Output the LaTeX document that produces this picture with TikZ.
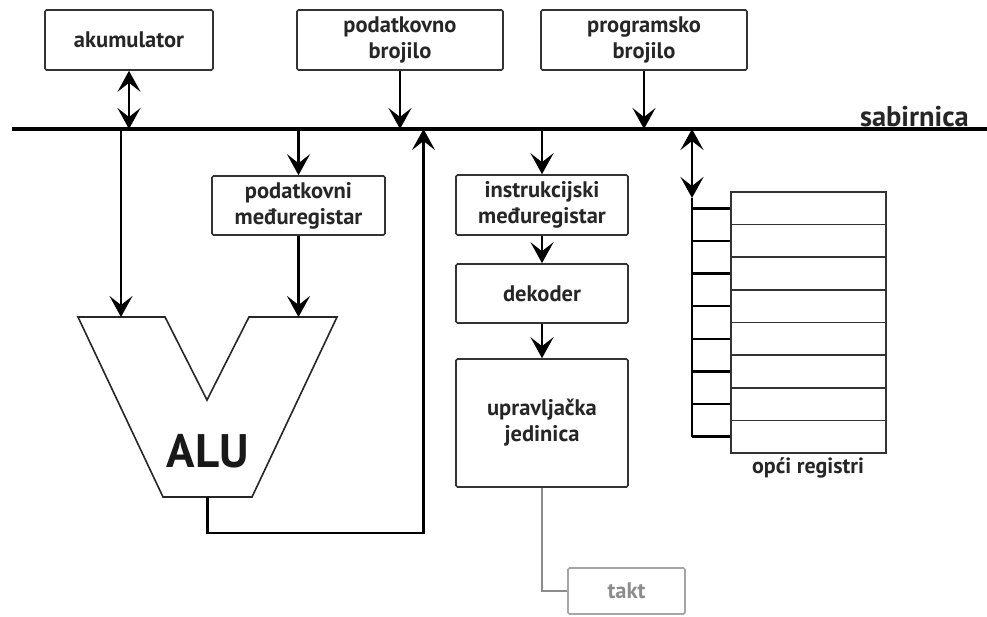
\documentclass[tikz,border=0pt]{standalone}
\usepackage{fontspec}
\setmainfont{PT Sans}
\usetikzlibrary{arrows.meta}
\begin{document}
\begin{tikzpicture}[x=1pt,y=-1pt,
  box/.style={draw=black!80, line width=1.6pt, rounded corners=1.5pt, inner sep=0pt,
    font=\bfseries\fontsize{22.5}{26}\selectfont, text=black!85, align=center},
  lbl/.style={font=\bfseries\fontsize{22}{26}\selectfont, text=black!85, inner sep=0pt},
  con/.style={line width=2.6pt, -{Stealth[length=21pt,width=23pt,inset=9pt]}},
  dbl/.style={line width=2.6pt, {Stealth[length=21pt,width=23pt,inset=9pt]}-{Stealth[length=21pt,width=23pt,inset=9pt]}},
  wire/.style={line width=2.6pt},
  busline/.style={line width=3.2pt},
  reg/.style={draw=black!80, line width=1.6pt, minimum width=155pt, minimum height=32.625pt, inner sep=0pt},
  gwire/.style={line width=1.6pt, draw=black!45}
]
\useasboundingbox (0,0) rectangle (987,616);
\fill[white] (0,0) rectangle (987,616);

% bus
\coordinate (busL) at (12,129);
\coordinate (busR) at (987,129);
\draw[busline] (busL) -- (busR);
\node[font=\bfseries\fontsize{28.5}{32}\selectfont, text=black!85, inner sep=0pt, anchor=base east] (sab) at (969,126.5) {sabirnica};

% top boxes
\node[box, minimum width=168pt, minimum height=60pt] (akum) at (129,40) {akumulator};
\node[box, minimum width=206pt, minimum height=60pt] (pbr) at (400,40) {podatkovno\\brojilo};
\node[box, minimum width=206pt, minimum height=60pt] (prbr) at (644,40) {programsko\\brojilo};

\draw[dbl] (akum.south) -- (akum.south |- busL);
\draw[con] (pbr.south) -- (pbr.south |- busL);
\draw[con] (prbr.south) -- (prbr.south |- busL);

% data intermediate register
\node[box, minimum width=173pt, minimum height=59pt] (pmr) at (298.5,205.5) {podatkovni\\međuregistar};

% ALU
\coordinate (aTL) at (78,317);
\coordinate (aIL) at (165,317);
\coordinate (aN) at (207,400);
\coordinate (aIR) at (249,317);
\coordinate (aTR) at (337,317);
\coordinate (aBR) at (252,497);
\coordinate (aBL) at (163,497);
\draw[line width=1.6pt, draw=black!85, line join=miter] (aTL) -- (aIL) -- (aN) -- (aIR) -- (aTR) -- (aBR) -- (aBL) -- cycle;
\node[font=\bfseries\fontsize{47}{52}\selectfont, text=black!90, inner sep=0pt] (alu) at (208,451) {ALU};
\coordinate (aInA) at (121,317);
\coordinate (aInB) at (298.5,317);
\coordinate (aOut) at (207.5,497);
\coordinate (ret) at (423.5,533);

\draw[con] (aInA |- busL) -- (aInA);
\draw[con] (pmr.north |- busL) -- (pmr.north);
\draw[con] (pmr.south) -- (aInB);
\draw[con] (aOut) |- (ret) -- (ret |- busL);

% control column
\node[box, minimum width=172pt, minimum height=60pt] (imr) at (542,205) {instrukcijski\\međuregistar};
\node[box, minimum width=172pt, minimum height=59pt] (dek) at (542,293.5) {dekoder};
\node[box, minimum width=172pt, minimum height=128pt] (uj) at (542,423) {upravljačka\\jedinica};
\node[box, draw=black!35, text=black!45, minimum width=117pt, minimum height=46pt] (takt) at (626.5,591) {takt};

\draw[con] (imr.north |- busL) -- (imr.north);
\draw[con] (imr.south) -- (dek.north);
\draw[con] (dek.south) -- (uj.north);
\draw[gwire] (uj.south) |- (takt.west);

% general registers
\foreach \i in {1,...,8} {
  \node[reg] (r\i) at (808.5, {192 + (\i-0.5)*32.625}) {};
}
\coordinate (rvT) at (692,129);
\coordinate (rvM) at (692,198);
\draw[dbl] (rvT) -- (rvM);
\draw[wire] (rvM) -- (rvM |- r8.west);
\foreach \i in {1,...,8} {
  \draw[wire] (rvT |- r\i.west) -- (r\i.west);
}
\node[lbl] (opci) at (808,468) {opći registri};
\end{tikzpicture}
\end{document}
